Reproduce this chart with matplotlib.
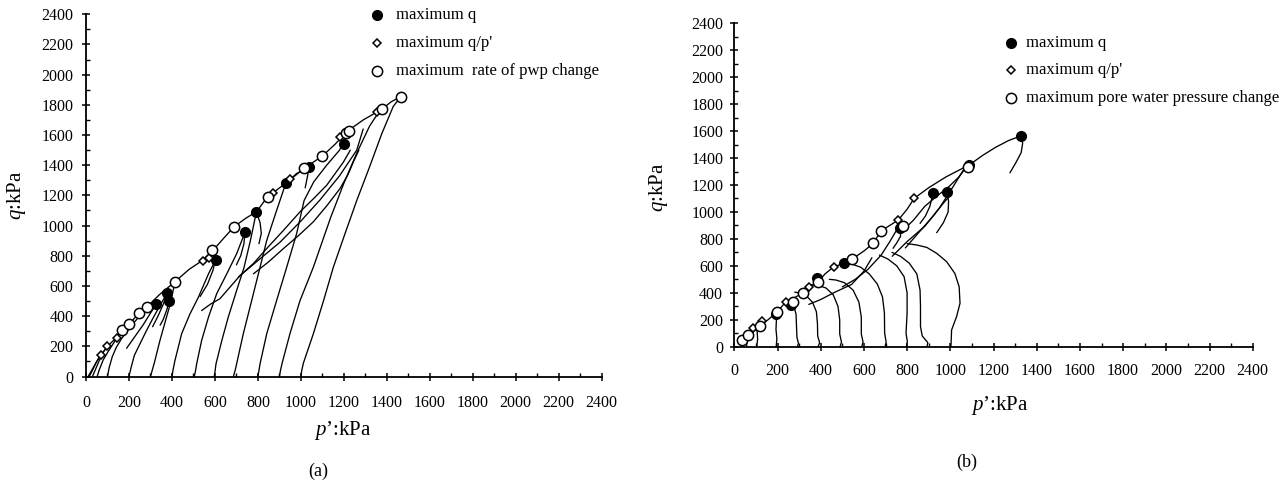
import matplotlib
matplotlib.use('Agg')
import matplotlib.pyplot as plt
from matplotlib.ticker import MultipleLocator

plt.rcParams['font.family'] = ['Liberation Serif', 'DejaVu Serif']
plt.rcParams['mathtext.fontset'] = 'custom'
plt.rcParams['mathtext.it'] = 'Liberation Serif:italic'
plt.rcParams['mathtext.rm'] = 'Liberation Serif'

# ---------------- data: panel (a) ----------------
a_env_p = [10, 30, 50, 73, 99, 133, 166, 202, 248, 282, 340, 414, 480, 540, 588, 640, 689, 745, 793,
           845, 930, 1015, 1100, 1160, 1213, 1290, 1376, 1420, 1466]
a_env_q = [0, 50, 100, 149, 199, 246, 308, 348, 423, 458, 540, 628, 710, 767, 831, 915, 992, 1050, 1091,
           1191, 1281, 1379, 1461, 1540, 1622, 1700, 1770, 1820, 1855]

a_paths_p = [
    [15, 28, 45, 60],
    [30, 42, 60, 80, 99],
    [52, 62, 80, 105, 130, 142],
    [100, 108, 122, 140, 165, 195, 225, 255, 282],
    [200, 210, 225, 251, 280, 306, 340, 379],
    [300, 308, 318, 344, 370, 392, 414],
    [400, 406, 414, 445, 484, 523, 570, 603],
    [504, 510, 515, 538, 570, 608, 655, 701, 740],
    [597, 601, 605, 632, 662, 701, 735, 765, 793],
    [686, 694, 701, 732, 771, 810, 841, 887, 930, 980, 1038],
    [799, 805, 810, 841, 887, 934, 980, 1015, 1060, 1120, 1180, 1225],
    [900, 905, 912, 949, 996, 1058, 1112, 1140, 1200, 1260, 1320, 1371],
    [1000, 1004, 1012, 1058, 1105, 1151, 1205, 1260, 1320, 1376, 1430, 1466],
    # post-peak branches
    [328, 300, 265, 225, 189],
    [379, 360, 335, 310],
    [385, 378, 360, 345],
    [603, 590, 565, 531],
    [740, 735, 720, 700],
    [793, 810, 816, 805],
    [1038, 1030, 1020],
    [538, 580, 623, 717, 810, 903, 1000, 1089, 1180, 1260, 1290],
    [709, 780, 841, 920, 996, 1060, 1120, 1198, 1230],
    [779, 850, 919, 990, 1058, 1120, 1182, 1220, 1244, 1270],
]
a_paths_q = [
    [0, 35, 85, 125],
    [0, 40, 100, 160, 199],
    [0, 45, 110, 170, 225, 254],
    [0, 60, 130, 190, 250, 305, 360, 410, 458],
    [0, 60, 140, 216, 300, 371, 460, 556],
    [0, 40, 90, 238, 370, 480, 625],
    [0, 50, 106, 283, 415, 525, 680, 773],
    [0, 40, 84, 238, 393, 548, 680, 813, 956],
    [0, 40, 84, 238, 393, 570, 720, 900, 1091],
    [0, 40, 84, 283, 503, 724, 901, 1100, 1281, 1345, 1387],
    [0, 40, 84, 283, 503, 724, 945, 1166, 1290, 1400, 1500, 1625],
    [0, 40, 84, 283, 503, 724, 945, 1059, 1280, 1480, 1660, 1770],
    [0, 40, 90, 283, 500, 724, 945, 1166, 1390, 1607, 1790, 1855],
    [481, 420, 340, 260, 187],
    [556, 480, 400, 330],
    [503, 450, 380, 340],
    [773, 700, 610, 530],
    [956, 880, 800, 740],
    [1091, 1020, 949, 880],
    [1387, 1320, 1250],
    [437, 480, 515, 669, 780, 890, 1030, 1170, 1330, 1500, 1640],
    [658, 750, 848, 970, 1091, 1180, 1267, 1421, 1500],
    [680, 760, 848, 935, 1025, 1130, 1245, 1340, 1421, 1500],
]

a_maxq_p = [328, 379, 385, 603, 740, 793, 930, 1038, 1201]
a_maxq_q = [481, 556, 503, 773, 956, 1091, 1281, 1387, 1541]
a_maxqp_p = [70, 99, 142, 544, 573, 869, 949, 1182, 1356]
a_maxqp_q = [145, 199, 254, 768, 784, 1219, 1307, 1590, 1755]
a_pwp_p = [166, 202, 248, 282, 414, 588, 689, 845, 1015, 1100, 1210, 1225, 1376, 1466]
a_pwp_q = [308, 348, 422, 460, 627, 835, 990, 1192, 1380, 1461, 1615, 1625, 1772, 1855]

# ---------------- data: panel (b) ----------------
b_env_p = [25, 34, 65, 96, 119, 160, 199, 239, 280, 320, 348, 389, 420, 461, 508, 545, 600, 643, 678,
           720, 759, 800, 833, 900, 980, 1040, 1087, 1150, 1210, 1270, 1326, 1335, 1328, 1305, 1276]
b_env_q = [35, 52, 90, 121, 153, 205, 260, 334, 365, 401, 446, 482, 540, 594, 618, 650, 710, 766, 858,
           900, 940, 1020, 1101, 1180, 1260, 1310, 1348, 1420, 1480, 1530, 1564, 1510, 1440, 1370, 1290]

b_paths_p = [
    [57, 58, 52, 42],
    [104, 108, 106, 98],
    [194, 197, 193, 195, 199],
    [292, 297, 290, 288, 286, 276, 258, 240],
    [388, 395, 386, 385, 380, 362, 335, 305, 280],
    [490, 496, 488, 488, 480, 458, 425, 390, 355],
    [590, 596, 588, 588, 577, 550, 510, 470, 440],
    [698, 703, 696, 695, 686, 662, 625, 585, 550],
    [797, 801, 795, 800, 800, 786, 752, 712, 672],
    [892, 896, 870, 862, 862, 860, 845, 810, 770, 730],
    [1003, 1006, 1029, 1045, 1041, 1021, 983, 937, 891, 844, 800],
    # dilation / post-peak lines
    [345, 400, 460, 543, 600, 637],
    [500, 560, 618, 680, 720, 760],
    [731, 800, 882, 950, 1010, 1071],
    [792, 850, 920, 960, 995],
    [769, 830, 882, 940, 995, 1040, 1071],
    [983, 992, 990, 968, 937],
    [921, 905, 885, 860],
    [767, 770, 752, 735],
]
b_paths_q = [
    [0, 35, 60, 72],
    [0, 55, 110, 140],
    [0, 60, 130, 200, 260],
    [0, 25, 70, 150, 240, 300, 335, 345],
    [0, 30, 80, 170, 260, 330, 375, 398, 405],
    [0, 35, 95, 200, 300, 385, 435, 455, 460],
    [0, 35, 95, 220, 330, 420, 475, 495, 500],
    [0, 35, 100, 250, 370, 465, 540, 590, 610],
    [0, 40, 100, 250, 400, 520, 600, 650, 680],
    [0, 30, 80, 150, 300, 420, 540, 620, 670, 700],
    [0, 124, 223, 322, 445, 544, 631, 693, 737, 755, 765],
    [314, 350, 400, 462, 560, 660],
    [444, 500, 573, 680, 780, 889],
    [671, 780, 894, 1030, 1180, 1338],
    [733, 840, 968, 1050, 1116],
    [844, 940, 1042, 1120, 1190, 1260, 1326],
    [1150, 1080, 1000, 920, 846],
    [1143, 1040, 970, 915],
    [878, 820, 770, 730],
]

b_maxq_p = [194, 262, 381, 508, 767, 921, 983, 1087, 1326]
b_maxq_q = [239, 310, 507, 618, 878, 1143, 1150, 1348, 1564]
b_maxqp_p = [85, 128, 239, 348, 461, 759, 833]
b_maxqp_q = [141, 190, 334, 446, 594, 940, 1101]
b_pwp_p = [34, 65, 119, 199, 273, 320, 389, 545, 643, 678, 782, 1080]
b_pwp_q = [52, 90, 153, 260, 334, 401, 482, 650, 766, 858, 898, 1331]

ticks = list(range(0, 2401, 200))
tick_labels = [str(t) for t in ticks]

# ---------------- figure ----------------
W, H = 1281, 486
fig = plt.figure(figsize=(W / 100, H / 100), dpi=100)


def rect(x0, y0, x1, y1):
    return [x0 / W, 1 - y1 / H, (x1 - x0) / W, (y1 - y0) / H]


axL = fig.add_axes(rect(86, 14.3, 601.7, 376.5))
axR = fig.add_axes(rect(734.3, 23.3, 1252.7, 346.7))

line_kw = dict(color='black', lw=0.95, solid_capstyle='round', zorder=2)
filled_kw = dict(ls='none', marker='o', ms=7.0, mfc='black', mec='black', mew=1.0, zorder=4)
diam_kw = dict(ls='none', marker='D', ms=4.5, mfc='white', mec='black', mew=1.1, zorder=4)
open_kw = dict(ls='none', marker='o', ms=7.4, mfc='white', mec='black', mew=1.1, zorder=5)


def style(ax, xpad, ypad):
    ax.set_xlim(0, 2400)
    ax.set_ylim(0, 2400)
    for s in ('top', 'right'):
        ax.spines[s].set_visible(False)
    for s in ('left', 'bottom'):
        ax.spines[s].set_linewidth(1.3)
    ax.set_xticks(ticks)
    ax.set_xticklabels(tick_labels)
    ax.set_yticks(ticks)
    ax.set_yticklabels(tick_labels)
    ax.xaxis.set_minor_locator(MultipleLocator(100))
    ax.yaxis.set_minor_locator(MultipleLocator(100))
    ax.tick_params(which='major', direction='inout', length=6, width=1.1, labelsize=11.5)
    ax.tick_params(which='minor', direction='in', length=2.8, width=1.0)
    ax.tick_params(axis='x', which='major', pad=xpad)
    ax.tick_params(axis='y', which='major', pad=ypad)


style(axL, 10.5, 6.0)
style(axR, 9.0, 5.0)

axL.plot(a_env_p, a_env_q, **line_kw)
for pp, qq in zip(a_paths_p, a_paths_q):
    axL.plot(pp, qq, **line_kw)
axL.plot(a_maxq_p, a_maxq_q, **filled_kw)
axL.plot(a_maxqp_p, a_maxqp_q, **diam_kw)
axL.plot(a_pwp_p, a_pwp_q, **open_kw)

axR.plot(b_env_p, b_env_q, **line_kw)
for pp, qq in zip(b_paths_p, b_paths_q):
    axR.plot(pp, qq, **line_kw)
axR.plot(b_maxq_p, b_maxq_q, **filled_kw)
axR.plot(b_maxqp_p, b_maxqp_q, **diam_kw)
axR.plot(b_pwp_p, b_pwp_q, **open_kw)


def ftext(x, y, s, **kw):
    fig.text(x / W, 1 - y / H, s, **kw)


def fmark(x, y, kw):
    k = dict(kw)
    k['zorder'] = 6
    fig.add_artist(plt.Line2D([x / W], [1 - y / H], transform=fig.transFigure, **k))


# axis labels
ftext(343, 430, r'$p$’:kPa', ha='center', va='center', fontsize=15)
ftext(16, 195, r'$q$:kPa', ha='center', va='center', fontsize=15, rotation=90)
ftext(1000, 405, r'$p$’:kPa', ha='center', va='center', fontsize=15)
ftext(658, 187, r'$q$:kPa', ha='center', va='center', fontsize=15, rotation=90)
ftext(318, 471, '(a)', ha='center', va='center', fontsize=13)
ftext(967, 462, '(b)', ha='center', va='center', fontsize=13)

# legends
leg_a = ['maximum q', "maximum q/p'", 'maximum  rate of pwp change']
leg_b = ['maximum q', "maximum q/p'", 'maximum pore water pressure change']
kws = [filled_kw, diam_kw, open_kw]
for i, (lab, kw) in enumerate(zip(leg_a, kws)):
    y = 15 + i * 28
    fmark(376.7, y, kw)
    ftext(395.7, y, lab, ha='left', va='center', fontsize=12)
for i, (lab, kw) in enumerate(zip(leg_b, kws)):
    y = 42.7 + i * 27.8
    fmark(1010.7, y, kw)
    ftext(1026, y, lab, ha='left', va='center', fontsize=12)

fig.savefig('out.png', dpi=100)
